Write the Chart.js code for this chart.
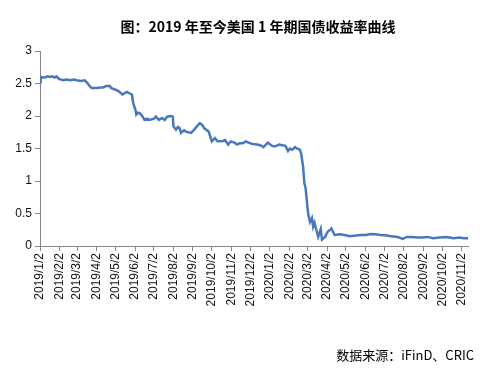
<!DOCTYPE html>
<html><head><meta charset="utf-8">
<script src="https://cdn.jsdelivr.net/npm/chart.js@4/dist/chart.umd.min.js"></script>
<style>html,body{margin:0;padding:0;background:#fff}</style>
</head><body>
<canvas id="c" width="482" height="369"></canvas>
<script>
const titleText = '图：2019 年至今美国 1 年期国债收益率曲线';
const sourceText = '数据来源：iFinD、CRIC';

const dates = [
 '2019-01-02','2019-01-03','2019-01-04','2019-01-09','2019-01-14','2019-01-18','2019-01-21','2019-01-25','2019-01-28','2019-02-01',
 '2019-02-08','2019-02-13','2019-02-19','2019-02-25','2019-03-01','2019-03-08','2019-03-14','2019-03-18','2019-03-22','2019-03-25',
 '2019-04-02','2019-04-08','2019-04-12','2019-04-17','2019-04-23','2019-04-25','2019-05-03','2019-05-07','2019-05-13','2019-05-20',
 '2019-05-24','2019-05-28','2019-05-30','2019-06-03','2019-06-04','2019-06-07','2019-06-10','2019-06-14','2019-06-17','2019-06-21',
 '2019-06-25','2019-07-02','2019-07-05','2019-07-10','2019-07-15','2019-07-19','2019-07-23','2019-07-29','2019-08-01','2019-08-02',
 '2019-08-06','2019-08-09','2019-08-12','2019-08-14','2019-08-19','2019-08-22','2019-08-30','2019-09-04','2019-09-10','2019-09-13',
 '2019-09-17','2019-09-20','2019-09-27','2019-10-02','2019-10-07','2019-10-11','2019-10-18','2019-10-23','2019-10-28','2019-11-01',
 '2019-11-07','2019-11-11','2019-11-15','2019-11-20','2019-11-25','2019-12-02','2019-12-06','2019-12-13','2019-12-18','2019-12-23',
 '2019-12-30','2020-01-06','2020-01-10','2020-01-17','2020-01-22','2020-01-27','2020-01-31','2020-02-03','2020-02-07','2020-02-11',
 '2020-02-14','2020-02-19','2020-02-21','2020-02-24','2020-02-26','2020-02-28','2020-03-03','2020-03-06','2020-03-09','2020-03-11',
 '2020-03-13','2020-03-16','2020-03-19','2020-03-23','2020-03-25','2020-03-30','2020-04-03','2020-04-07','2020-04-09','2020-04-14',
 '2020-04-22','2020-04-30','2020-05-08','2020-05-18','2020-05-26','2020-06-03','2020-06-10','2020-06-18','2020-06-26','2020-07-06',
 '2020-07-13','2020-07-23','2020-07-31','2020-08-07','2020-08-14','2020-08-24','2020-09-01','2020-09-08','2020-09-18','2020-09-28',
 '2020-10-08','2020-10-14','2020-10-20','2020-10-30','2020-11-05','2020-11-12'
];
const yields = [
 2.52,2.57,2.60,2.59,2.61,2.60,2.61,2.59,2.61,2.57,
 2.55,2.56,2.55,2.56,2.55,2.54,2.55,2.51,2.46,2.43,
 2.43,2.44,2.44,2.46,2.46,2.43,2.40,2.38,2.33,2.37,
 2.35,2.33,2.20,2.08,2.02,2.05,2.04,1.99,1.94,1.96,
 1.94,1.96,1.99,1.94,1.97,1.94,1.99,2.00,1.99,1.84,
 1.79,1.83,1.81,1.74,1.78,1.76,1.74,1.79,1.86,1.89,
 1.86,1.81,1.76,1.61,1.66,1.61,1.61,1.63,1.56,1.61,
 1.59,1.56,1.58,1.58,1.61,1.58,1.57,1.56,1.55,1.52,
 1.59,1.54,1.53,1.56,1.55,1.54,1.46,1.50,1.48,1.52,
 1.50,1.48,1.42,1.22,0.97,0.89,0.50,0.37,0.43,0.30,
 0.36,0.25,0.14,0.26,0.10,0.14,0.22,0.25,0.27,0.17,
 0.18,0.17,0.15,0.16,0.17,0.17,0.185,0.18,0.17,0.16,
 0.15,0.14,0.11,0.14,0.14,0.13,0.13,0.14,0.12,0.13,
 0.14,0.13,0.12,0.13,0.12,0.12
];
const tickDates = ['2019/1/2','2019/2/2','2019/3/2','2019/4/2','2019/5/2','2019/6/2','2019/7/2','2019/8/2','2019/9/2','2019/10/2','2019/11/2','2019/12/2',
 '2020/1/2','2020/2/2','2020/3/2','2020/4/2','2020/5/2','2020/6/2','2020/7/2','2020/8/2','2020/9/2','2020/10/2','2020/11/2'];
const yMin = 0, yMax = 3, yStep = 0.5;

const base = Date.UTC(2019,0,2);
function dayOf(s){ const p = s.split(/[-\/]/).map(Number); return (Date.UTC(p[0],p[1]-1,p[2]) - base)/86400000; }
const points = dates.map((d,i)=>({x: dayOf(d), y: yields[i]}));
const tickVals = tickDates.map(dayOf);
const tickMap = {}; tickDates.forEach((t,i)=>{ tickMap[tickVals[i]] = t; });
const xMax = dayOf(dates[dates.length-1]);

const textPlugin = {
  id:'texts',
  afterDraw(chart){
    const ctx = chart.ctx;
    ctx.save();
    ctx.fillStyle = '#000';
    ctx.font = 'bold 14px "Noto Sans CJK SC", sans-serif';
    ctx.textAlign = 'center'; ctx.textBaseline = 'middle';
    ctx.fillText(titleText, 258, 27);
    ctx.font = '13px "Noto Sans CJK SC", sans-serif';
    ctx.textAlign = 'right';
    ctx.fillText(sourceText, 474, 355);
    ctx.restore();
  }
};

new Chart(document.getElementById('c'), {
  type:'line',
  data:{ datasets:[{ data: points, borderColor:'#4a78be', borderWidth:2.5, pointRadius:0, tension:0, fill:false }] },
  options:{
    responsive:false, animation:false, devicePixelRatio:1,
    layout:{ padding:{ top:51, right:14, left:0, bottom:0 } },
    plugins:{ legend:{display:false}, tooltip:{enabled:false}, title:{display:false} },
    scales:{
      x:{
        type:'linear', min:0, max:xMax,
        afterBuildTicks(s){ s.ticks = tickVals.map(v=>({value:v})); },
        afterFit(s){ s.height = 123; },
        ticks:{ autoSkip:false, minRotation:90, maxRotation:90, padding:2, color:'#111',
          font:{ family:'"Liberation Sans", Arial, sans-serif', size:12 },
          callback:(v)=> tickMap[v] || '' },
        grid:{ display:true, drawOnChartArea:false, drawTicks:true, tickLength:5, color:'#888' },
        border:{ color:'#888', width:1 }
      },
      y:{
        min:yMin, max:yMax,
        afterFit(s){ s.width = 40; },
        ticks:{ stepSize:yStep, padding:3, color:'#111', font:{ family:'"Liberation Sans", Arial, sans-serif', size:12 },
          callback:(v)=> String(v) },
        grid:{ display:true, drawOnChartArea:false, drawTicks:true, tickLength:5, color:'#888' },
        border:{ color:'#888', width:1 }
      }
    }
  },
  plugins:[textPlugin]
});
</script>
</body></html>
